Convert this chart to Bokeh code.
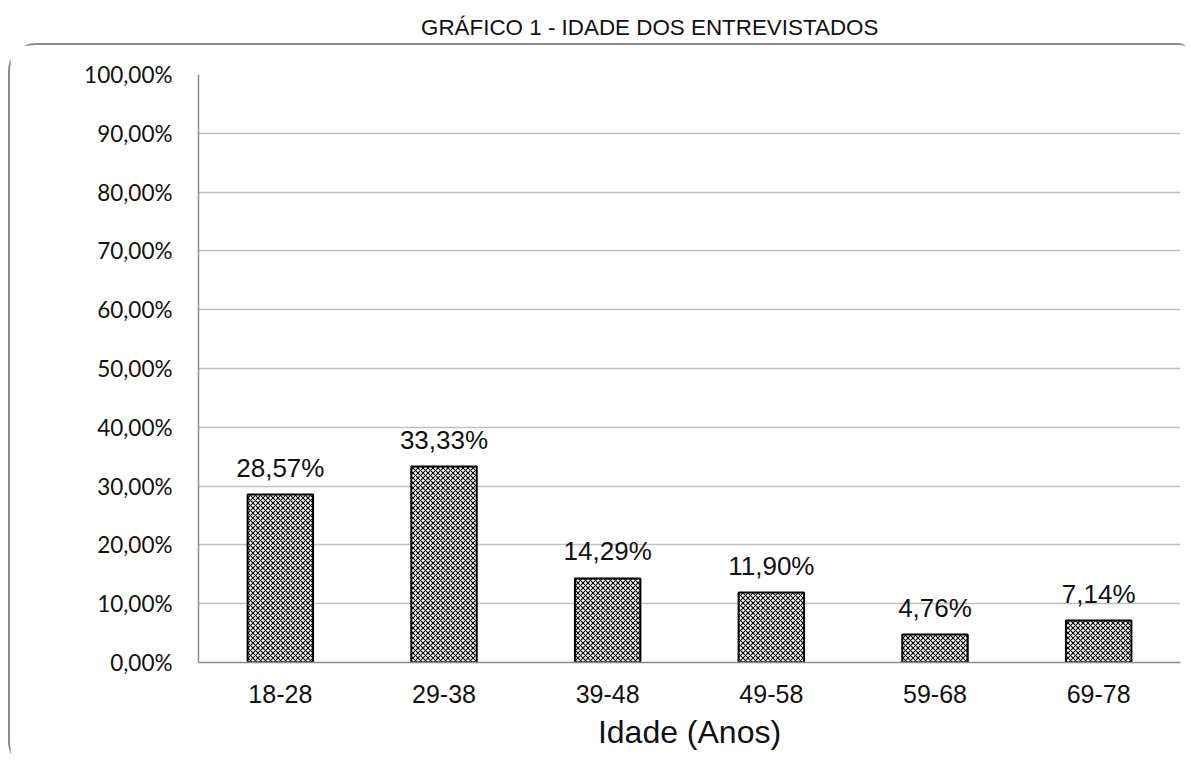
from bokeh.plotting import figure
from bokeh.models import ColumnDataSource, FixedTicker, Div, FactorRange
from bokeh.layouts import column
from bokeh.core.properties import value
from bokeh.embed import file_html
from bokeh.resources import INLINE

categories = ["18-28", "29-38", "39-48", "49-58", "59-68", "69-78"]
values = [28.57, 33.33, 14.29, 11.90, 4.76, 7.14]
value_labels = ["28,57%", "33,33%", "14,29%", "11,90%", "4,76%", "7,14%"]
y_ticks = [0, 10, 20, 30, 40, 50, 60, 70, 80, 90, 100]
y_tick_labels = ["0,00%", "10,00%", "20,00%", "30,00%", "40,00%", "50,00%",
                 "60,00%", "70,00%", "80,00%", "90,00%", "100,00%"]
title = "GRÁFICO 1 - IDADE DOS ENTREVISTADOS"
x_title = "Idade (Anos)"

src = ColumnDataSource(dict(cat=categories, val=values, lab=value_labels))

title_div = Div(text=title, width=1181, height=33,
                styles={"text-align": "left", "font-family": "'Liberation Sans', Arial, sans-serif",
                        "font-size": "22.4px", "color": "#111", "width": "1181px",
                        "line-height": "26px", "padding-top": "10px", "padding-left": "408px",
                        "white-space": "nowrap"})

p = figure(x_range=FactorRange(*categories, range_padding=0), y_range=(0, 100),
           width=1181, height=727, output_backend="svg", toolbar_location=None,
           min_border_left=188, min_border_right=11, min_border_top=29, min_border_bottom=110)
p.styles = {"border-top": "2px solid #8c8c8c", "border-left": "2px solid #8c8c8c",
            "border-top-left-radius": "28px", "border-bottom-left-radius": "28px",
            "border-top-right-radius": "10px"}
p.outline_line_color = None
p.background_fill_color = "white"
p.border_fill_color = "white"

p.vbar(x="cat", top="val", width=0.4, source=src, fill_color="white",
       line_color="black", line_width=2, hatch_pattern="diagonal_cross",
       hatch_color="black", hatch_scale=5, hatch_weight=1.1)

p.text(x="cat", y="val", text="lab", source=src, text_align="center",
       text_baseline="bottom", y_offset=-12, text_font=value("Liberation Sans"),
       text_font_size="26px", text_color="#111")

p.yaxis.ticker = FixedTicker(ticks=y_ticks)
p.yaxis.major_label_overrides = {t: l for t, l in zip(y_ticks, y_tick_labels)}
p.yaxis.major_label_text_font = "Lato"
p.yaxis.major_label_text_font_size = "22.5px"
p.yaxis.major_label_text_color = "#111"
p.yaxis.major_label_standoff = 20
p.yaxis.major_tick_line_color = None
p.yaxis.minor_tick_line_color = None
p.yaxis.axis_line_color = "#8c8c8c"
p.yaxis.axis_line_width = 1.5

p.xaxis.major_label_text_font = "Liberation Sans"
p.xaxis.major_label_text_font_size = "25px"
p.xaxis.major_label_text_color = "#111"
p.xaxis.major_label_standoff = 16
p.xaxis.major_tick_line_color = None
p.xaxis.axis_line_color = "#8c8c8c"
p.xaxis.axis_line_width = 1.5
p.xaxis.axis_label = x_title
p.xaxis.axis_label_text_font = "Liberation Sans"
p.xaxis.axis_label_text_font_size = "32px"
p.xaxis.axis_label_text_font_style = "normal"
p.xaxis.axis_label_text_color = "#111"
p.xaxis.axis_label_standoff = 8

p.xgrid.grid_line_color = None
p.ygrid.grid_line_color = "#c0c0c0"
p.ygrid.grid_line_width = 1.5

layout = column(title_div, p, spacing=0, margin=(0, 0, 0, 8))
open("out.html", "w").write(file_html(layout, INLINE))
